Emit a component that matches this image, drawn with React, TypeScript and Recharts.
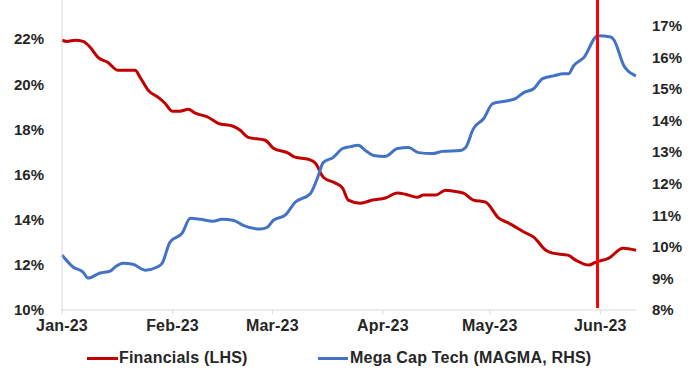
import React from "react";
import { LineChart, Line, XAxis, YAxis, ReferenceLine, Legend } from "recharts";

// Days since 1 Jan 2023
const monthTicks = [0, 31, 59, 90, 120, 151];
const monthLabels = ["Jan-23", "Feb-23", "Mar-23", "Apr-23", "May-23", "Jun-23"];
const leftTicks = [10, 12, 14, 16, 18, 20, 22, 24];
const rightTicks = [8, 9, 10, 11, 12, 13, 14, 15, 16, 17, 18];

const finDays = [0, 1.4, 3.7, 5.9, 7.9, 10.1, 12.9, 15.7, 18.5, 20.5, 21.9, 24.2, 27.0, 28.9, 30.9, 33.1, 35.4, 37.4, 41.0, 43.8, 48.0, 50.0, 52.2, 57.0, 59.3, 63.5, 65.4, 69.1, 71.1, 73.3, 76.7, 78.7, 80.3, 83.7, 87.1, 90.7, 94.1, 96.3, 99.7, 101.4, 104.8, 107.6, 109.6, 112.6, 115.4, 118.8, 122.5, 125.3, 130.1, 132.3, 135.7, 137.6, 141.9, 144.1, 147.8, 149.7, 153.4, 157.3, 161];
const finValues = [21.95, 21.9, 21.95, 21.9, 21.64, 21.19, 20.97, 20.62, 20.62, 20.62, 20.31, 19.73, 19.42, 19.16, 18.81, 18.81, 18.89, 18.72, 18.54, 18.27, 18.14, 17.96, 17.65, 17.52, 17.17, 16.95, 16.77, 16.68, 16.5, 15.88, 15.62, 15.4, 14.87, 14.73, 14.87, 14.96, 15.18, 15.13, 15.0, 15.09, 15.09, 15.31, 15.27, 15.18, 14.87, 14.78, 14.07, 13.85, 13.41, 13.23, 12.65, 12.52, 12.43, 12.21, 11.99, 12.12, 12.3, 12.74, 12.65];

const techDays = [0, 3.1, 5.9, 7.3, 10.7, 13.5, 14.9, 17.1, 19.9, 23.3, 26.7, 28.1, 30.3, 33.7, 36.0, 38.8, 42.4, 44.9, 48.0, 50.8, 55.6, 57.6, 59.3, 62.6, 65.4, 69.7, 71.6, 73.3, 76.1, 78.7, 80.9, 83.1, 85.1, 87.4, 90.7, 94.1, 97.2, 100.0, 103.9, 106.7, 111.8, 113.2, 115.4, 118.3, 120.8, 125.0, 127.2, 129.5, 132.3, 134.8, 137.9, 140.7, 142.1, 143.5, 146.3, 150.3, 153.9, 154.8, 157.6, 160.4, 161];
const techValues = [9.74, 9.36, 9.2, 9.01, 9.17, 9.23, 9.36, 9.48, 9.45, 9.26, 9.36, 9.48, 10.15, 10.43, 10.9, 10.87, 10.81, 10.87, 10.84, 10.68, 10.56, 10.62, 10.84, 11.0, 11.41, 11.69, 12.16, 12.67, 12.83, 13.11, 13.17, 13.21, 13.05, 12.89, 12.86, 13.11, 13.14, 12.98, 12.95, 13.02, 13.05, 13.14, 13.74, 14.06, 14.53, 14.62, 14.69, 14.88, 15.0, 15.32, 15.41, 15.48, 15.48, 15.73, 15.98, 16.68, 16.64, 16.55, 15.73, 15.44, 15.41];

const markerDay = 150.2;

const finData = finDays.map((d, i) => ({ day: d, fin: finValues[i] }));
const techData = techDays.map((d, i) => ({ day: d, tech: techValues[i] }));

const RED = "#C00000";
const BLUE = "#4472C4";
const FONT = "'Liberation Sans', Arial, sans-serif";
const tickStyle = { fontFamily: FONT, fontSize: 15, fontWeight: 700, fill: "#262626" };
const xTickStyle = { fontFamily: FONT, fontSize: 16, fontWeight: 700, fill: "#262626", letterSpacing: 0.2 };

const LegendContent = () => (
  <div
    style={{
      position: "relative",
      height: 30,
      width: 700,
      fontFamily: FONT,
      fontSize: 16,
      fontWeight: 700,
      letterSpacing: 0.2,
      color: "#262626",
    }}
  >
    <div style={{ position: "absolute", left: 87, top: 6, height: 24, display: "flex", alignItems: "center" }}>
      <div style={{ width: 31, height: 3, background: RED, marginRight: 1 }} />
      <span>Financials (LHS)</span>
    </div>
    <div style={{ position: "absolute", left: 318, top: 6, height: 24, display: "flex", alignItems: "center" }}>
      <div style={{ width: 30, height: 3, background: BLUE, marginRight: 2 }} />
      <span>Mega Cap Tech (MAGMA, RHS)</span>
    </div>
  </div>
);

export default function App() {
  return (
    <div style={{ position: "absolute", left: 0, top: -16, width: 700, height: 391, background: "#fff" }}>
      <LineChart width={700} height={391} margin={{ top: 10, right: 0, bottom: 5, left: 0 }}>
        <XAxis
          dataKey="day"
          type="number"
          domain={[0, 161]}
          ticks={monthTicks}
          tickFormatter={(v: number) => monthLabels[monthTicks.indexOf(v)] ?? ""}
          allowDuplicatedCategory={false}
          height={30}
          stroke="#d9d9d9"
          tickSize={4}
          tickMargin={6}
          tick={xTickStyle}
          interval={0}
        />
        <YAxis
          yAxisId="left"
          orientation="left"
          domain={[10, 24]}
          ticks={leftTicks}
          tickFormatter={(v: number) => `${v}%`}
          width={62}
          stroke="#d9d9d9"
          tickLine={false}
          tickSize={0}
          tickMargin={18}
          tick={tickStyle}
          interval={0}
        />
        <YAxis
          yAxisId="right"
          orientation="right"
          domain={[8, 18]}
          ticks={rightTicks}
          tickFormatter={(v: number) => `${v}%`}
          width={64}
          axisLine={false}
          tickLine={false}
          tickSize={0}
          tickMargin={16}
          tick={tickStyle}
          interval={0}
        />
        <Line
          yAxisId="left"
          data={finData}
          dataKey="fin"
          name="Financials (LHS)"
          stroke={RED}
          strokeWidth={3}
          dot={false}
          type="monotone"
          isAnimationActive={false}
        />
        <Line
          yAxisId="right"
          data={techData}
          dataKey="tech"
          name="Mega Cap Tech (MAGMA, RHS)"
          stroke={BLUE}
          strokeWidth={3}
          dot={false}
          type="monotone"
          isAnimationActive={false}
        />
        <ReferenceLine
          yAxisId="left"
          segment={[
            { x: markerDay, y: 24 },
            { x: markerDay, y: 10.09 },
          ]}
          stroke="#FF0000"
          strokeWidth={3}
        />
        <Legend verticalAlign="bottom" content={<LegendContent />} />
      </LineChart>
    </div>
  );
}
